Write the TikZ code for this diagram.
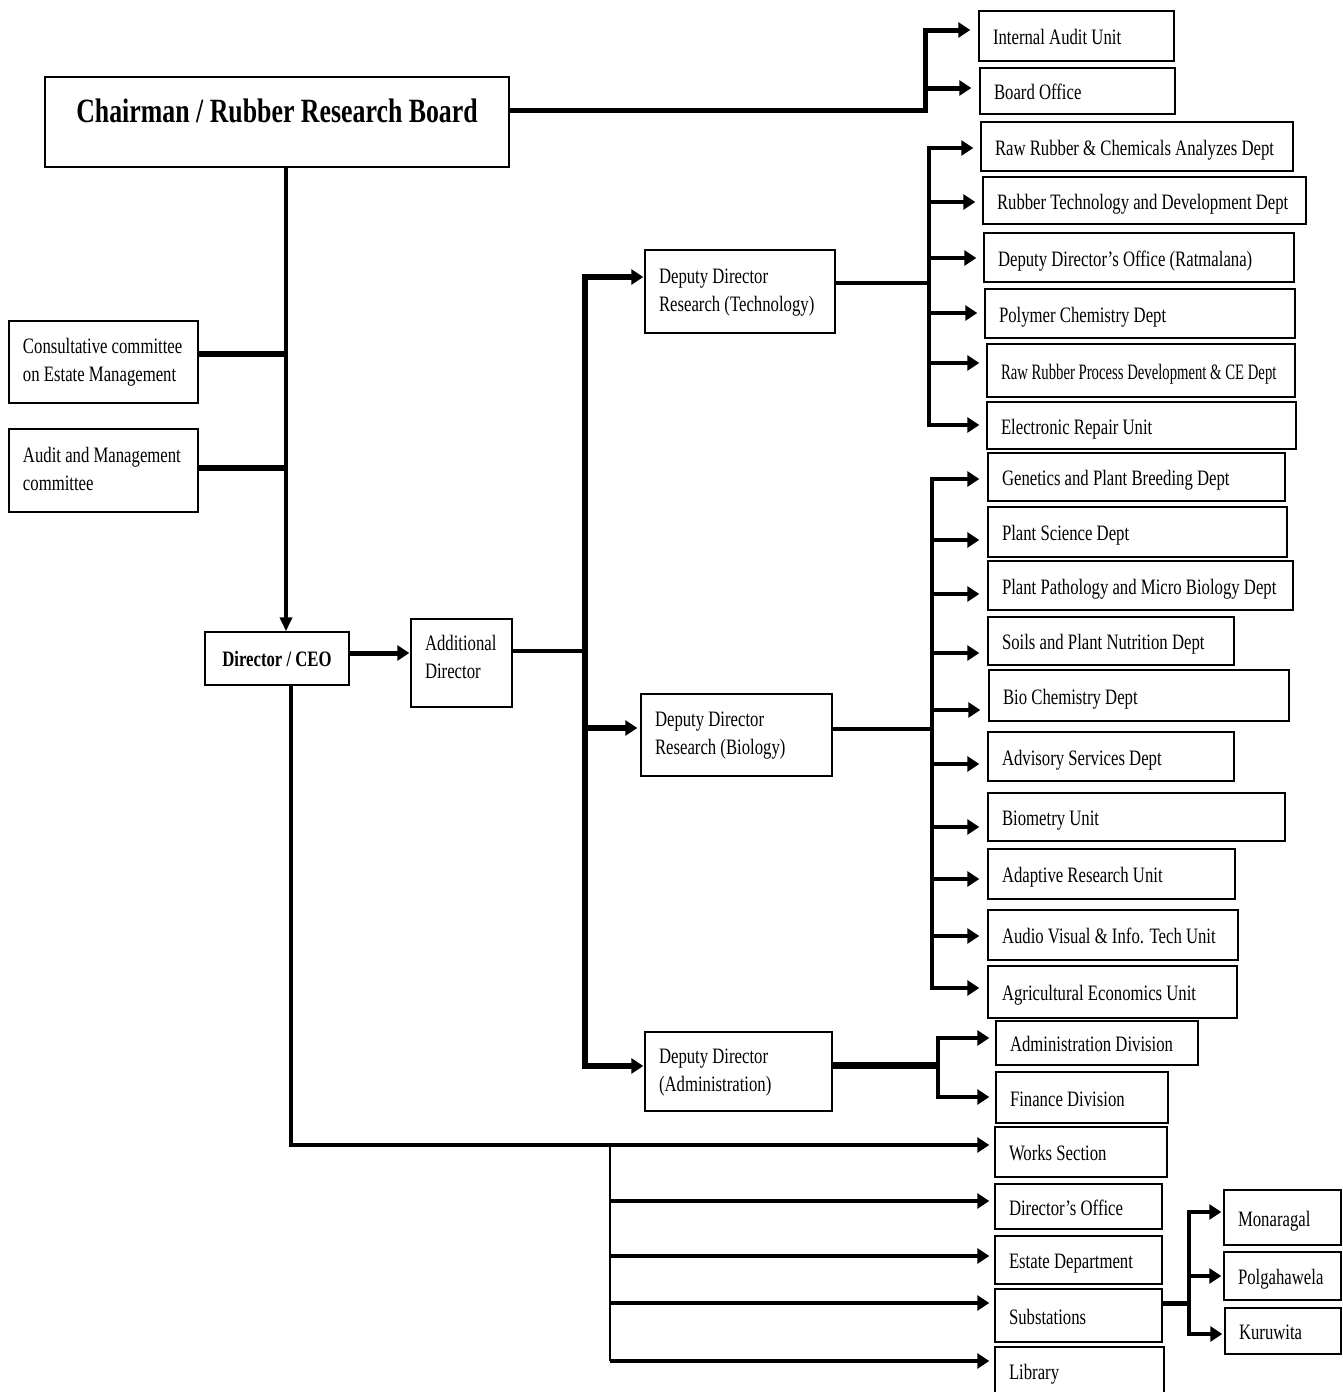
\documentclass[tikz,border=0pt]{standalone}
\usepackage{fontspec}
\usepackage{graphicx}
\setmainfont{Liberation Serif}[FakeStretch=0.76]
\usetikzlibrary{arrows.meta}
\tikzset{
  box/.style={draw=black, line width=1.4pt, fill=white, rectangle, inner sep=0pt, font=\fontsize{22}{28}\selectfont},
  ln/.style={line width=#1, draw=black},
  ln/.default=4pt,
  arr/.style={line width=#1, ->},
  arr/.default=4pt,
  arrb/.style={line width=#1, <->},
  arrb/.default=4pt,
}
% \bx[downshift]{name}{x1}{y1}{x2}{y2}{text}
\newcommand{\bx}[7][3]{%
  \pgfmathsetmacro\bxw{#5-#3}%
  \pgfmathsetmacro\bxh{#6-#4}%
  \pgfmathsetmacro\bxtw{#5-#3-28}%
  \pgfmathsetmacro\bxcx{(#3+#5)/2}%
  \pgfmathsetmacro\bxcy{(#4+#6)/2}%
  \node[box, minimum width=\bxw pt, minimum height=\bxh pt] (#2) at (\bxcx,\bxcy)
    {\raisebox{-#1pt}[\height][\depth]{\makebox[\bxtw pt][l]{\begin{tabular}{@{}l@{}}#7\end{tabular}}}};%
}
\begin{document}
\begin{tikzpicture}[x=1pt, y=-1pt, >={Triangle[length=12pt,width=15pt]}, line join=miter]
\useasboundingbox (0,0) rectangle (1342,1392);
\fill[white] (0,0) rectangle (1342,1392);

% ---------- boxes ----------
\bx{ch}{45}{77}{509}{167}{}
\node[font=\bfseries\fontsize{34}{40}\selectfont, inner sep=0pt] (tt) at (277,111) {Chairman / Rubber Research Board};
\bx[0]{cc}{9}{321}{198}{403}{Consultative committee\\on Estate Management}
\bx[0]{am}{9}{429}{198}{512}{Audit and Management\\committee}
\node[box, minimum width=144pt, minimum height=53pt, font=\bfseries\fontsize{22}{28}\selectfont] (ceo) at (277,658.5) {Director / CEO};
\bx[-4]{ad}{411}{619}{512}{707}{Additional\\Director}
\bx[0]{ddt}{645}{250}{835}{333}{Deputy Director\\Research (Technology)}
\bx[0]{ddb}{641}{694}{832}{776}{Deputy Director\\Research (Biology)}
\bx[0]{dda}{645}{1032}{832}{1111}{Deputy Director\\(Administration)}

\bx{iau}{979}{11}{1174}{61}{Internal Audit Unit}
\bx{bo}{980}{68}{1175}{114}{Board Office}

\bx{t1}{981}{122}{1293}{171}{Raw Rubber \& Chemicals Analyzes Dept}
\bx{t2}{983}{177}{1306}{224}{Rubber Technology and Development Dept}
\bx{t3}{984}{233}{1294}{282}{Deputy Director’s Office (Ratmalana)}
\bx{t4}{985}{289}{1295}{338}{Polymer Chemistry Dept}
\bx{t5}{987}{344}{1295}{397}{\scalebox{0.88}[1]{Raw Rubber Process Development \& CE Dept}}
\bx{t6}{987}{402}{1296}{449}{Electronic Repair Unit}

\bx{b1}{988}{453}{1285}{501}{Genetics and Plant Breeding Dept}
\bx{b2}{988}{507}{1287}{557}{Plant Science Dept}
\bx{b3}{988}{561}{1293}{610}{Plant Pathology and Micro Biology Dept}
\bx{b4}{988}{617}{1234}{665}{Soils and Plant Nutrition Dept}
\bx{b5}{989}{670}{1289}{721}{Bio Chemistry Dept}
\bx{b6}{988}{732}{1234}{781}{Advisory Services Dept}
\bx{b7}{988}{793}{1285}{841}{Biometry Unit}
\bx{b8}{988}{849}{1235}{899}{Adaptive Research Unit}
\bx{b9}{988}{910}{1238}{960}{Audio Visual \& Info. Tech Unit}
\bx{b10}{988}{966}{1237}{1018}{Agricultural Economics Unit}

\bx{a1}{996}{1021}{1198}{1065}{Administration Division}
\bx{a2}{996}{1072}{1168}{1123}{Finance Division}
\bx{wk}{995}{1127}{1167}{1177}{Works Section}
\bx{d1}{995}{1184}{1162}{1229}{Director’s Office}
\bx{d2}{995}{1236}{1162}{1284}{Estate Department}
\bx{d3}{995}{1289}{1162}{1342}{Substations}
\bx{d4}{995}{1347}{1164}{1394}{Library}
\bx{s1}{1224}{1190}{1341}{1245}{Monaragal}
\bx{s2}{1224}{1252}{1341}{1300}{Polgahawela}
\bx{s3}{1225}{1308}{1341}{1354}{Kuruwita}

% ---------- connectors ----------
% chairman to audit unit / board office
\coordinate (jc) at (925,110);
\draw[arr=5pt, shorten >=8pt] (jc -| ch.east) -- (jc) |- (iau.west |- 0,30);
\draw[arr=5pt, shorten >=8pt] (jc |- 0,88) -- (bo.west |- 0,88);

% chairman to director / CEO, committees
\draw[line width=3.5pt, -{Triangle[length=14pt,width=12pt]}] (ch.south -| 286,0) -- (ceo.north -| 286,0);
\draw[ln=6pt] (cc.east |- 0,354) -- (286,354);
\draw[ln=6pt] (am.east |- 0,468) -- (286,468);

% CEO to additional director
\draw[arr=5pt, shorten >=1pt] (ceo.east |- 0,653) -- (ad.west |- 0,653);

% additional director to deputy directors
\coordinate (mb) at (585,651);
\draw[ln=4pt] (ad.east |- mb) -- (mb);
\draw[arrb=6pt, shorten >=1pt, shorten <=1pt] (ddt.west |- 0,277) -| (mb) |- (dda.west |- 0,1066);
\draw[arr=6pt, shorten >=3pt] (mb |- 0,728) -- (ddb.west |- 0,728);

% technology departments
\coordinate (tb) at (929,283);
\draw[ln=4pt] (ddt.east |- tb) -- (tb);
\draw[arrb=4.5pt, shorten >=7pt, shorten <=7pt] (t1.west |- 0,148) -| (tb) |- (t6.west |- 0,425);
\foreach \nn/\yy in {t2/202, t3/258, t4/313, t5/363}
  \draw[arr=4.5pt, shorten >=7pt] (tb |- 0,\yy) -- (\nn.west |- 0,\yy);

% biology departments
\coordinate (bb) at (932,729);
\draw[ln=4pt] (ddb.east |- bb) -- (bb);
\draw[arrb=4.5pt, shorten >=8pt, shorten <=8pt] (b1.west |- 0,479) -| (bb) |- (b10.west |- 0,988);
\foreach \nn/\yy in {b2/540, b3/594, b4/653, b5/710, b6/764, b7/827, b8/879, b9/936}
  \draw[arr=4.5pt, shorten >=8pt] (bb |- 0,\yy) -- (\nn.west |- 0,\yy);

% administration
\coordinate (ab) at (938,1065);
\draw[ln=7pt] (dda.east |- ab) -- (ab);
\draw[arrb=4pt, shorten >=6pt, shorten <=6pt] (a1.west |- 0,1038) -| (ab) |- (a2.west |- 0,1097);

% CEO down to works section and others
\draw[arr=4pt, shorten >=5pt] (ceo.south -| 291,0) |- (wk.west |- 0,1145);
\coordinate (lb) at (610,1145);
\draw[line width=1.5pt] (lb) -- (lb |- 0,1361);
\foreach \nn/\yy in {d1/1201, d2/1256, d3/1303, d4/1361}
  \draw[arr=4pt, shorten >=5pt] (lb |- 0,\yy) -- (\nn.west |- 0,\yy);

% substations
\coordinate (sb) at (1189,1303);
\draw[ln=5pt] (d3.east |- sb) -- (sb);
\draw[arrb=4.5pt, shorten >=2pt, shorten <=2pt] (s1.west |- 0,1212) -| (sb) |- (s3.west |- 0,1334);
\draw[arr=4.5pt, shorten >=2pt] (sb |- 0,1276) -- (s2.west |- 0,1276);
\end{tikzpicture}
\end{document}
